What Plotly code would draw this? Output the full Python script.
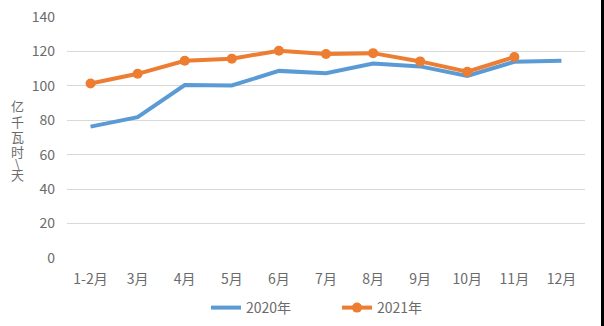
import plotly.graph_objects as go

categories = ["1-2月", "3月", "4月", "5月", "6月", "7月", "8月", "9月", "10月", "11月", "12月"]
values_2020 = [76.3, 81.8, 100.5, 100.2, 108.7, 107.3, 113.0, 111.3, 105.8, 114.0, 114.6]
values_2021 = [101.4, 107.0, 114.6, 115.8, 120.4, 118.5, 119.0, 114.2, 108.2, 116.8]
y_ticks = [0, 20, 40, 60, 80, 100, 120, 140]
y_title_chars = ["亿", "千", "瓦", "时", "\\", "天"]

font_family = "Noto Sans CJK SC, Noto Sans, sans-serif"
text_color = "#6b6b6b"

W, H = 604, 326
ML, MR, MT, MB = 67, 19, 17, 68
PW, PH = W - ML - MR, H - MT - MB

fig = go.Figure()
fig.add_trace(go.Scatter(
    x=categories, y=values_2020, name="2020年", mode="lines",
    line=dict(color="#5b9bd5", width=4),
))
fig.add_trace(go.Scatter(
    x=categories[:len(values_2021)], y=values_2021, name="2021年", mode="lines+markers",
    line=dict(color="#ed7d31", width=4),
    marker=dict(color="#ed7d31", size=10),
))

fig.update_layout(
    width=W, height=H,
    margin=dict(l=ML, r=MR, t=MT, b=MB, autoexpand=False),
    paper_bgcolor="white", plot_bgcolor="white",
    font=dict(family=font_family, size=14, color=text_color),
    showlegend=True,
    legend=dict(orientation="h", x=206 / W, xanchor="left", xref="container",
                y=1 - 308 / H, yanchor="middle", yref="container",
                font=dict(size=14, color=text_color), itemwidth=30, tracegroupgap=0,
                entrywidth=86, entrywidthmode="pixels"),
    xaxis=dict(range=[-0.5, len(categories) - 0.5], showgrid=False, showline=False,
               zeroline=False, ticks="", tickfont=dict(size=14, color=text_color),
               ticklabelstandoff=11),
    yaxis=dict(range=[0, 140], tickvals=y_ticks, showgrid=True, gridcolor="#d9d9d9",
               gridwidth=1, zeroline=False, showline=False, ticks="",
               tickfont=dict(size=14, color=text_color), ticklabelstandoff=11),
)

title_px = [105, 121, 136, 151, 163, 174]
for ch, ypx in zip(y_title_chars, title_px):
    fig.add_annotation(
        text=ch, xref="paper", yref="paper",
        x=(17 - ML) / PW, y=(MT + PH - ypx) / PH, xanchor="center", yanchor="middle",
        showarrow=False, font=dict(size=13, color=text_color),
    )

fig.add_shape(type="rect", xref="paper", yref="paper",
              x0=(601 - ML) / PW, x1=(606 - ML) / PW, y0=-1, y1=2,
              fillcolor="black", line=dict(width=0), layer="above")

fig.write_html("out.html")
